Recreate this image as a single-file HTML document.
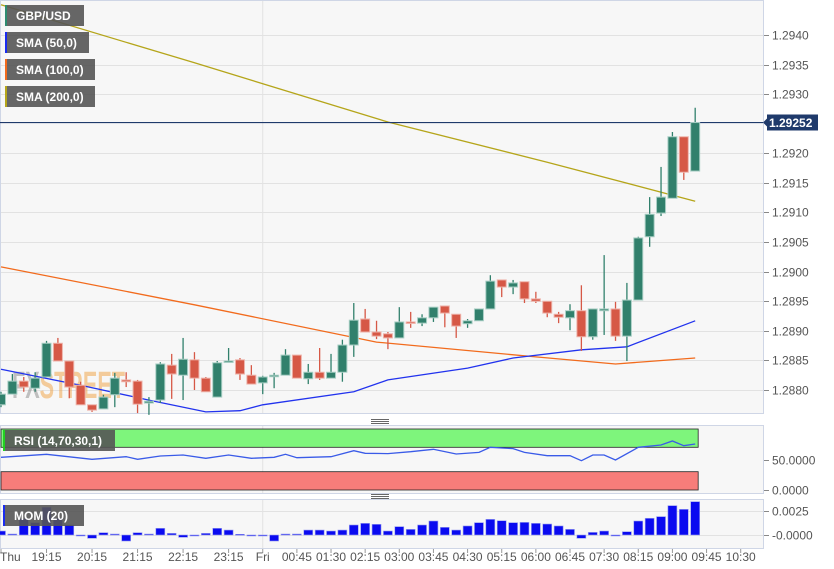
<!DOCTYPE html>
<html><head><meta charset="utf-8"><style>
body{margin:0;background:#fff;font-family:"Liberation Sans",sans-serif;}
svg{display:block}
</style></head><body>
<svg id="chart" width="834" height="569" viewBox="0 0 834 569" xmlns="http://www.w3.org/2000/svg">
<rect x="0" y="0" width="834" height="569" fill="#fff"/>
<rect x="0.5" y="0.5" width="763" height="413" fill="#f7f7f7" stroke="#cfd6e6"/>
<rect x="0.5" y="425.5" width="763" height="68" fill="#f7f7f7" stroke="#cfd6e6"/>
<rect x="0.5" y="499.5" width="763" height="49" fill="#f7f7f7" stroke="#cfd6e6"/>
<g id="grid"></g>
<text x="12" y="398" font-size="38" font-weight="bold" fill="#888" opacity="0.5" textLength="113" lengthAdjust="spacingAndGlyphs">FX<tspan fill="#f0a040">STREET</tspan></text>
<g id="sma"></g>
<g id="candles"></g>
<g id="rsi"></g>
<g id="mom"></g>
<g id="axes" font-size="12" fill="#555"></g>
<g><line x1="371" y1="419.5" x2="389" y2="419.5" stroke="#666"/><line x1="371" y1="421.5" x2="389" y2="421.5" stroke="#666"/><line x1="371" y1="423.5" x2="389" y2="423.5" stroke="#666"/></g>
<g><line x1="371" y1="494.5" x2="389" y2="494.5" stroke="#666"/><line x1="371" y1="496.5" x2="389" y2="496.5" stroke="#666"/><line x1="371" y1="498.5" x2="389" y2="498.5" stroke="#666"/></g>
<g id="legend" font-size="12" font-weight="bold" fill="#fff"></g>
</svg>
<script>
const opens=[1.28775,1.28793,1.28815,1.28803,1.28822,1.28879,1.28849,1.28808,1.28775,1.28768,1.28792,1.28817,1.28815,1.28778,1.28783,1.28842,1.28825,1.28851,1.28820,1.28788,1.28847,1.28851,1.28825,1.28812,1.28824,1.28825,1.28859,1.28819,1.28830,1.28820,1.28830,1.28876,1.28920,1.28898,1.28895,1.28888,1.28915,1.28913,1.28922,1.28942,1.28928,1.28912,1.28917,1.28937,1.28986,1.28974,1.28983,1.28954,1.28950,1.28928,1.28922,1.28934,1.28890,1.28934,1.28937,1.28891,1.28952,1.29059,1.29099,1.29124,1.29228,1.29170];
const highs=[1.28797,1.28827,1.28822,1.28830,1.28883,1.28888,1.28849,1.28814,1.28775,1.28792,1.28829,1.28830,1.28817,1.28788,1.28847,1.28861,1.28888,1.28864,1.28822,1.28849,1.28871,1.28854,1.28842,1.28824,1.28829,1.28869,1.28859,1.28844,1.28871,1.28861,1.28885,1.28947,1.28937,1.28917,1.28898,1.28940,1.28932,1.28928,1.28940,1.28942,1.28928,1.28920,1.28937,1.28994,1.28986,1.28986,1.28983,1.28966,1.28950,1.28932,1.28945,1.28977,1.28937,1.29028,1.28949,1.28981,1.29059,1.29126,1.29177,1.29236,1.29228,1.29277];
const lows=[1.28771,1.28793,1.28797,1.28797,1.28822,1.28849,1.28786,1.28775,1.28763,1.28768,1.28771,1.28805,1.28761,1.28758,1.28778,1.28785,1.28783,1.28800,1.28797,1.28788,1.28847,1.28817,1.28810,1.28793,1.28803,1.28825,1.28820,1.28810,1.28817,1.28820,1.28814,1.28856,1.28898,1.28886,1.28869,1.28888,1.28905,1.28908,1.28915,1.28906,1.28888,1.28905,1.28917,1.28937,1.28957,1.28962,1.28947,1.28947,1.28923,1.28913,1.28901,1.28866,1.28885,1.28893,1.28883,1.28849,1.28952,1.29042,1.29094,1.29124,1.29155,1.29170];
const closes=[1.28793,1.28815,1.28805,1.28820,1.28879,1.28849,1.28805,1.28775,1.28766,1.28788,1.28820,1.28814,1.28776,1.28781,1.28844,1.28827,1.28852,1.28820,1.28797,1.28846,1.28849,1.28827,1.28810,1.28822,1.28825,1.28859,1.28820,1.28830,1.28820,1.28830,1.28876,1.28918,1.28898,1.28891,1.28888,1.28915,1.28913,1.28922,1.28940,1.28930,1.28908,1.28917,1.28937,1.28984,1.28974,1.28981,1.28954,1.28950,1.28930,1.28923,1.28934,1.28890,1.28937,1.28937,1.28891,1.28952,1.29057,1.29097,1.29126,1.29228,1.29168,1.29252];
const sma50Idx=[0,7,13,18,21,23,31,34,41,45,51,55,61];
const sma50Val=[1.28835,1.28808,1.28783,1.28763,1.28765,1.28775,1.28797,1.28817,1.28837,1.28854,1.28868,1.28873,1.28917];
const sma100Idx=[0,17,33,47,54,61];
const sma100Val=[1.29008,1.28944,1.28881,1.28856,1.28844,1.28854];
const sma200Idx=[0,17,34,48,61];
const sma200Val=[1.29451,1.29353,1.29253,1.29185,1.29119];
const rsiIdx=[0,4,8,11,12,14,16,18,20,22,24,25,26,29,31,32,34,36,38,40,42,43,45,46,48,50,51,52,53,54,56,58,59,60,61];
const rsiVal=[53.6,58.5,50.3,54.6,50.3,55.7,57.4,51.9,57.4,51.9,53.6,58.5,53,54.6,64.5,60.1,59.6,62.8,66.7,59,61.7,70,67.8,61.7,56.3,56.3,48.1,57.4,57.4,49.2,70,73.8,80.3,72.7,75.4];
const momVal=[0.00041,0.0001,0.00165,0.00127,0.00285,0.00172,0.00103,0,-0.00034,0.00024,0.0001,-0.00062,0.00024,0.0001,0.00069,0.00017,-0.00024,0,0.00017,0.00069,0.00051,0.00007,0,0,-0.00062,0.0001,0.0001,0.00051,0.00051,0.00041,0.00051,0.00103,0.0012,0.0011,0.00041,0.00086,0.00058,0.00103,0.00144,0.00079,0.00051,0.00093,0.00127,0.00161,0.00147,0.00127,0.0013,0.0012,0.00113,0.00093,0.00058,-0.00034,0.00027,0.00041,0,0.00034,0.00144,0.00172,0.00189,0.00302,0.00264,0.00343];
const priceTicks=[1.2880,1.2885,1.2890,1.2895,1.2900,1.2905,1.2910,1.2915,1.2920,1.2930,1.2935,1.2940];
const timeLabels=["Thu","19:15","20:15","21:15","22:15","23:15","Fri","00:45","01:30","02:15","03:00","03:45","04:30","05:15","06:00","06:45","07:30","08:15","09:00","09:45","10:30"];
const timeIdx=[0,4,8,12,16,20,23,26,29,32,35,38,41,44,47,50,53,56,59,62,65];
const lastPrice=1.29252;

const NS="http://www.w3.org/2000/svg";
function el(tag,attrs,parent){const e=document.createElementNS(NS,tag);for(const k in attrs)e.setAttribute(k,attrs[k]);parent.appendChild(e);return e;}
const xOf=i=>1+i*11.38;
const yOf=p=>390-(p-1.2880)/0.0000169;
const yR=v=>490-v*0.61;
const yM=v=>535-v/0.0025*24.3;
const g=id=>document.getElementById(id);

priceTicks.forEach(p=>{const y=Math.round(yOf(p))+0.5;
 const l=el('line',{x1:1,x2:763,y1:y,y2:y,stroke:'#e2e2e2'},g('grid'));
 
 
 el('line',{x1:764,x2:769,y1:y,y2:y,stroke:'#888'},g('axes'));
 const t=el('text',{x:772,y:y+4},g('axes'));t.textContent=p.toFixed(4);
 
 
});
[[50,'50.0000'],[0,'0.0000']].forEach(([v,s])=>{const y=Math.round(yR(v))+0.5;
 el('line',{x1:764,x2:769,y1:y,y2:y,stroke:'#888'},g('axes'));
 const t=el('text',{x:772,y:y+4},g('axes'));t.textContent=s;
 
 });
[[0.0025,'0.0025'],[0,'-0.0000']].forEach(([v,s])=>{const y=Math.round(yM(v))+0.5;
 el('line',{x1:1,x2:763,y1:y,y2:y,stroke:'#e2e2e2'},g('grid'));
 el('line',{x1:764,x2:769,y1:y,y2:y,stroke:'#888'},g('axes'));
 const t=el('text',{x:772,y:y+4},g('axes'));t.textContent=s;
 
 });
[[1,413],[426,493],[500,548]].forEach(([a,b])=>el('line',{x1:xOf(23),x2:xOf(23),y1:a,y2:b,stroke:'#e2e2e2'},g('grid')));
timeLabels.forEach((s,k)=>{const x=xOf(timeIdx[k]);
 el('line',{x1:x,x2:x,y1:549,y2:553,stroke:'#999'},g('axes'));
 const t=el('text',{x:k===0?0:x,y:561,'text-anchor':k===0?'start':'middle'},g('axes'));t.textContent=s;
 
 });

function line(idx,val,color,name,fy,parent){
 const pts=idx.map((i,k)=>xOf(i).toFixed(1)+','+fy(val[k]).toFixed(1)).join(' ');
 const pl=el('polyline',{points:pts,fill:'none',stroke:color,'stroke-width':1.3},parent);
 
 }
line(sma200Idx,sma200Val,'#b5a51a','sma-200-line',yOf,g('sma'));
line(sma100Idx,sma100Val,'#f26b1d','sma-100-line',yOf,g('sma'));
line(sma50Idx,sma50Val,'#2233ee','sma-50-line',yOf,g('sma'));

el('line',{x1:0,x2:763,y1:yOf(lastPrice),y2:yOf(lastPrice),stroke:'#1f3a6b','stroke-width':1.2},g('sma'));

opens.forEach((o,i)=>{const c=closes[i],x=xOf(i);const up=c>=o;
 const col=up?'#31806c':'#d65846',edge=up?'#a9cfc5':'#eeb3aa';
 const gg=el('g',{},g('candles'));
 
 
 el('line',{x1:x,x2:x,y1:yOf(highs[i]),y2:yOf(lows[i]),stroke:col,'stroke-width':1.3},gg);
 const t=Math.min(yOf(o),yOf(c)),h=Math.max(Math.abs(yOf(o)-yOf(c)),1.5);
 el('rect',{x:x-4.5,y:t,width:9,height:h,fill:col,stroke:edge,'stroke-width':1},gg);
});

const pg=el('g',{},g('axes'));


const py=yOf(lastPrice);
el('polygon',{points:`763,${py} 767,${py-4} 767,${py-8} 818,${py-8} 818,${py+8} 767,${py+8} 767,${py+4}`,fill:'#1f3a6b'},pg);
const pt=el('text',{x:769,y:py+4.5,fill:'#fff','font-weight':'bold'},pg);pt.textContent=lastPrice.toFixed(5);

el('rect',{x:1,y:yR(100),width:xOf(61)+2,height:yR(70)-yR(100),fill:'#7ef57c',stroke:'#222','stroke-width':0.8},g('rsi'));
el('rect',{x:1,y:yR(30),width:xOf(61)+2,height:yR(0)-yR(30),fill:'#f77d7a',stroke:'#222','stroke-width':0.8},g('rsi'));
line(rsiIdx,rsiVal,'#3a5be8','rsi-line',yR,g('rsi'));

momVal.forEach((v,i)=>{const x=xOf(i);const y0=yM(0),y1=yM(v);
 const r=el('rect',{x:x-4.5,y:Math.min(y0,y1),width:9,height:Math.max(Math.abs(y1-y0),1),fill:'#0a0af0',stroke:'#9aa0f0','stroke-width':0.6},g('mom'));
 
 });

function legend(x,y,w,txt,stripe,name){const lg=el('g',{},g('legend'));
 
 
 el('rect',{x:x,y:y,width:w,height:21,fill:'#555',opacity:0.9},lg);
 el('rect',{x:x,y:y,width:2,height:21,fill:stripe},lg);
 const t=el('text',{x:x+11,y:y+15},lg);t.textContent=txt;}
legend(5,5,79,'GBP/USD','#2e8b70','legend-gbpusd');
legend(5,32,84,'SMA (50,0)','#1a2cf0','legend-sma-50');
legend(5,59,90,'SMA (100,0)','#f26b1d','legend-sma-100');
legend(5,86,90,'SMA (200,0)','#b5a51a','legend-sma-200');
legend(3,430,112,'RSI (14,70,30,1)','#22d022','legend-rsi');
legend(3,505,81,'MOM (20)','#1a2cf0','legend-mom');
</script>
</body></html>
